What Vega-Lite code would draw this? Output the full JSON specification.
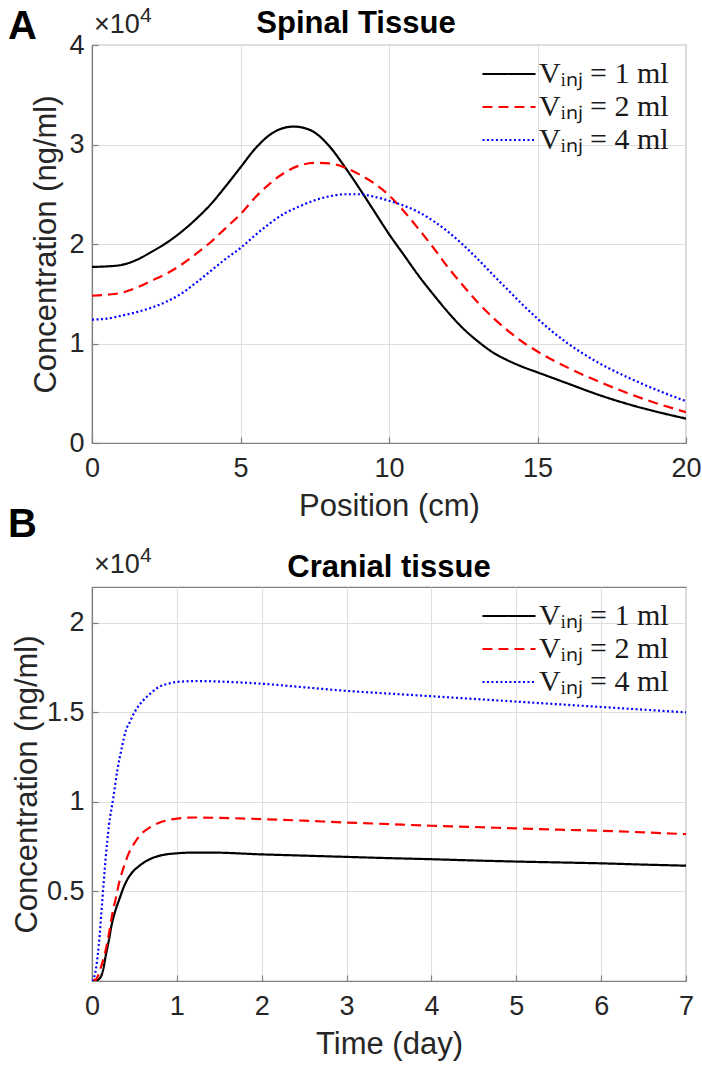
{
  "$schema": "https://vega.github.io/schema/vega-lite/v6.json",
  "background": "white",
  "padding": {"left": 7, "top": 4, "right": 17, "bottom": 5},
  "datasets": {
    "spinal": [
      {"position": 0, "concentration": 17700, "volume": "1 ml"},
      {"position": 0.5, "concentration": 17750, "volume": "1 ml"},
      {"position": 1, "concentration": 17900, "volume": "1 ml"},
      {"position": 1.5, "concentration": 18400, "volume": "1 ml"},
      {"position": 2, "concentration": 19200, "volume": "1 ml"},
      {"position": 2.5, "concentration": 20100, "volume": "1 ml"},
      {"position": 3, "concentration": 21200, "volume": "1 ml"},
      {"position": 3.5, "concentration": 22500, "volume": "1 ml"},
      {"position": 4, "concentration": 24000, "volume": "1 ml"},
      {"position": 4.5, "concentration": 25800, "volume": "1 ml"},
      {"position": 5, "concentration": 27700, "volume": "1 ml"},
      {"position": 5.5, "concentration": 29600, "volume": "1 ml"},
      {"position": 6, "concentration": 31000, "volume": "1 ml"},
      {"position": 6.5, "concentration": 31700, "volume": "1 ml"},
      {"position": 6.8, "concentration": 31800, "volume": "1 ml"},
      {"position": 7, "concentration": 31750, "volume": "1 ml"},
      {"position": 7.5, "concentration": 31200, "volume": "1 ml"},
      {"position": 8, "concentration": 29800, "volume": "1 ml"},
      {"position": 8.5, "concentration": 27800, "volume": "1 ml"},
      {"position": 9, "concentration": 25600, "volume": "1 ml"},
      {"position": 9.5, "concentration": 23300, "volume": "1 ml"},
      {"position": 10, "concentration": 21000, "volume": "1 ml"},
      {"position": 10.5, "concentration": 18900, "volume": "1 ml"},
      {"position": 11, "concentration": 16800, "volume": "1 ml"},
      {"position": 11.5, "concentration": 14900, "volume": "1 ml"},
      {"position": 12, "concentration": 13100, "volume": "1 ml"},
      {"position": 12.5, "concentration": 11500, "volume": "1 ml"},
      {"position": 13, "concentration": 10200, "volume": "1 ml"},
      {"position": 13.5, "concentration": 9100, "volume": "1 ml"},
      {"position": 14, "concentration": 8300, "volume": "1 ml"},
      {"position": 14.5, "concentration": 7650, "volume": "1 ml"},
      {"position": 15, "concentration": 7100, "volume": "1 ml"},
      {"position": 15.5, "concentration": 6550, "volume": "1 ml"},
      {"position": 16, "concentration": 6000, "volume": "1 ml"},
      {"position": 17, "concentration": 4900, "volume": "1 ml"},
      {"position": 18, "concentration": 3950, "volume": "1 ml"},
      {"position": 19, "concentration": 3150, "volume": "1 ml"},
      {"position": 20, "concentration": 2450, "volume": "1 ml"},
      {"position": 0, "concentration": 14800, "volume": "2 ml"},
      {"position": 0.5, "concentration": 14900, "volume": "2 ml"},
      {"position": 1, "concentration": 15100, "volume": "2 ml"},
      {"position": 1.5, "concentration": 15600, "volume": "2 ml"},
      {"position": 2, "concentration": 16300, "volume": "2 ml"},
      {"position": 2.5, "concentration": 17000, "volume": "2 ml"},
      {"position": 3, "concentration": 17900, "volume": "2 ml"},
      {"position": 3.5, "concentration": 19000, "volume": "2 ml"},
      {"position": 4, "concentration": 20200, "volume": "2 ml"},
      {"position": 4.5, "concentration": 21600, "volume": "2 ml"},
      {"position": 5, "concentration": 23000, "volume": "2 ml"},
      {"position": 5.5, "concentration": 24700, "volume": "2 ml"},
      {"position": 6, "concentration": 26100, "volume": "2 ml"},
      {"position": 6.5, "concentration": 27200, "volume": "2 ml"},
      {"position": 7, "concentration": 27900, "volume": "2 ml"},
      {"position": 7.5, "concentration": 28150, "volume": "2 ml"},
      {"position": 8, "concentration": 28100, "volume": "2 ml"},
      {"position": 8.5, "concentration": 27700, "volume": "2 ml"},
      {"position": 9, "concentration": 27000, "volume": "2 ml"},
      {"position": 9.5, "concentration": 26100, "volume": "2 ml"},
      {"position": 10, "concentration": 24900, "volume": "2 ml"},
      {"position": 10.5, "concentration": 23300, "volume": "2 ml"},
      {"position": 11, "concentration": 21500, "volume": "2 ml"},
      {"position": 11.5, "concentration": 19600, "volume": "2 ml"},
      {"position": 12, "concentration": 17600, "volume": "2 ml"},
      {"position": 12.5, "concentration": 15800, "volume": "2 ml"},
      {"position": 13, "concentration": 14100, "volume": "2 ml"},
      {"position": 13.5, "concentration": 12600, "volume": "2 ml"},
      {"position": 14, "concentration": 11300, "volume": "2 ml"},
      {"position": 14.5, "concentration": 10150, "volume": "2 ml"},
      {"position": 15, "concentration": 9200, "volume": "2 ml"},
      {"position": 16, "concentration": 7600, "volume": "2 ml"},
      {"position": 17, "concentration": 6250, "volume": "2 ml"},
      {"position": 18, "concentration": 5050, "volume": "2 ml"},
      {"position": 19, "concentration": 4000, "volume": "2 ml"},
      {"position": 20, "concentration": 3100, "volume": "2 ml"},
      {"position": 0, "concentration": 12400, "volume": "4 ml"},
      {"position": 0.5, "concentration": 12500, "volume": "4 ml"},
      {"position": 1, "concentration": 12800, "volume": "4 ml"},
      {"position": 1.5, "concentration": 13150, "volume": "4 ml"},
      {"position": 2, "concentration": 13600, "volume": "4 ml"},
      {"position": 2.5, "concentration": 14200, "volume": "4 ml"},
      {"position": 3, "concentration": 15000, "volume": "4 ml"},
      {"position": 3.5, "concentration": 16100, "volume": "4 ml"},
      {"position": 4, "concentration": 17300, "volume": "4 ml"},
      {"position": 4.5, "concentration": 18500, "volume": "4 ml"},
      {"position": 5, "concentration": 19600, "volume": "4 ml"},
      {"position": 5.5, "concentration": 20900, "volume": "4 ml"},
      {"position": 6, "concentration": 22100, "volume": "4 ml"},
      {"position": 6.5, "concentration": 23100, "volume": "4 ml"},
      {"position": 7, "concentration": 23800, "volume": "4 ml"},
      {"position": 7.5, "concentration": 24400, "volume": "4 ml"},
      {"position": 8, "concentration": 24800, "volume": "4 ml"},
      {"position": 8.5, "concentration": 25000, "volume": "4 ml"},
      {"position": 9, "concentration": 25000, "volume": "4 ml"},
      {"position": 9.5, "concentration": 24750, "volume": "4 ml"},
      {"position": 10, "concentration": 24350, "volume": "4 ml"},
      {"position": 10.5, "concentration": 23850, "volume": "4 ml"},
      {"position": 11, "concentration": 23200, "volume": "4 ml"},
      {"position": 11.5, "concentration": 22300, "volume": "4 ml"},
      {"position": 12, "concentration": 21200, "volume": "4 ml"},
      {"position": 12.5, "concentration": 19900, "volume": "4 ml"},
      {"position": 13, "concentration": 18450, "volume": "4 ml"},
      {"position": 13.5, "concentration": 16900, "volume": "4 ml"},
      {"position": 14, "concentration": 15400, "volume": "4 ml"},
      {"position": 14.5, "concentration": 13900, "volume": "4 ml"},
      {"position": 15, "concentration": 12500, "volume": "4 ml"},
      {"position": 15.5, "concentration": 11200, "volume": "4 ml"},
      {"position": 16, "concentration": 10050, "volume": "4 ml"},
      {"position": 16.5, "concentration": 9050, "volume": "4 ml"},
      {"position": 17, "concentration": 8150, "volume": "4 ml"},
      {"position": 18, "concentration": 6650, "volume": "4 ml"},
      {"position": 19, "concentration": 5350, "volume": "4 ml"},
      {"position": 20, "concentration": 4200, "volume": "4 ml"}
    ],
    "cranial": [
      {"time": 0, "concentration": 0, "volume": "1 ml"},
      {"time": 0.05, "concentration": 30, "volume": "1 ml"},
      {"time": 0.1, "concentration": 200, "volume": "1 ml"},
      {"time": 0.13, "concentration": 600, "volume": "1 ml"},
      {"time": 0.165, "concentration": 1500, "volume": "1 ml"},
      {"time": 0.2, "concentration": 2300, "volume": "1 ml"},
      {"time": 0.23, "concentration": 3100, "volume": "1 ml"},
      {"time": 0.28, "concentration": 4000, "volume": "1 ml"},
      {"time": 0.325, "concentration": 4600, "volume": "1 ml"},
      {"time": 0.37, "concentration": 5200, "volume": "1 ml"},
      {"time": 0.415, "concentration": 5650, "volume": "1 ml"},
      {"time": 0.48, "concentration": 6100, "volume": "1 ml"},
      {"time": 0.55, "concentration": 6400, "volume": "1 ml"},
      {"time": 0.64, "concentration": 6700, "volume": "1 ml"},
      {"time": 0.73, "concentration": 6900, "volume": "1 ml"},
      {"time": 0.85, "concentration": 7050, "volume": "1 ml"},
      {"time": 1, "concentration": 7130, "volume": "1 ml"},
      {"time": 1.2, "concentration": 7170, "volume": "1 ml"},
      {"time": 1.4, "concentration": 7170, "volume": "1 ml"},
      {"time": 2, "concentration": 7070, "volume": "1 ml"},
      {"time": 2.5, "concentration": 7000, "volume": "1 ml"},
      {"time": 3, "concentration": 6930, "volume": "1 ml"},
      {"time": 3.5, "concentration": 6860, "volume": "1 ml"},
      {"time": 4, "concentration": 6800, "volume": "1 ml"},
      {"time": 4.5, "concentration": 6730, "volume": "1 ml"},
      {"time": 5, "concentration": 6670, "volume": "1 ml"},
      {"time": 5.5, "concentration": 6620, "volume": "1 ml"},
      {"time": 6, "concentration": 6570, "volume": "1 ml"},
      {"time": 6.5, "concentration": 6500, "volume": "1 ml"},
      {"time": 7, "concentration": 6440, "volume": "1 ml"},
      {"time": 0, "concentration": 0, "volume": "2 ml"},
      {"time": 0.05, "concentration": 100, "volume": "2 ml"},
      {"time": 0.1, "concentration": 700, "volume": "2 ml"},
      {"time": 0.15, "concentration": 1500, "volume": "2 ml"},
      {"time": 0.19, "concentration": 2400, "volume": "2 ml"},
      {"time": 0.25, "concentration": 4000, "volume": "2 ml"},
      {"time": 0.28, "concentration": 4600, "volume": "2 ml"},
      {"time": 0.32, "concentration": 5500, "volume": "2 ml"},
      {"time": 0.37, "concentration": 6300, "volume": "2 ml"},
      {"time": 0.43, "concentration": 7100, "volume": "2 ml"},
      {"time": 0.5, "concentration": 7700, "volume": "2 ml"},
      {"time": 0.6, "concentration": 8300, "volume": "2 ml"},
      {"time": 0.69, "concentration": 8600, "volume": "2 ml"},
      {"time": 0.8, "concentration": 8850, "volume": "2 ml"},
      {"time": 0.91, "concentration": 9000, "volume": "2 ml"},
      {"time": 1, "concentration": 9070, "volume": "2 ml"},
      {"time": 1.2, "concentration": 9130, "volume": "2 ml"},
      {"time": 1.5, "concentration": 9110, "volume": "2 ml"},
      {"time": 2, "concentration": 9040, "volume": "2 ml"},
      {"time": 2.5, "concentration": 8950, "volume": "2 ml"},
      {"time": 3, "concentration": 8850, "volume": "2 ml"},
      {"time": 3.5, "concentration": 8760, "volume": "2 ml"},
      {"time": 4, "concentration": 8670, "volume": "2 ml"},
      {"time": 4.5, "concentration": 8600, "volume": "2 ml"},
      {"time": 5, "concentration": 8520, "volume": "2 ml"},
      {"time": 5.5, "concentration": 8450, "volume": "2 ml"},
      {"time": 6, "concentration": 8390, "volume": "2 ml"},
      {"time": 6.5, "concentration": 8300, "volume": "2 ml"},
      {"time": 7, "concentration": 8200, "volume": "2 ml"},
      {"time": 0, "concentration": 0, "volume": "4 ml"},
      {"time": 0.04, "concentration": 500, "volume": "4 ml"},
      {"time": 0.08, "concentration": 2000, "volume": "4 ml"},
      {"time": 0.12, "concentration": 4400, "volume": "4 ml"},
      {"time": 0.16, "concentration": 6800, "volume": "4 ml"},
      {"time": 0.2, "concentration": 8700, "volume": "4 ml"},
      {"time": 0.25, "concentration": 10200, "volume": "4 ml"},
      {"time": 0.3, "concentration": 11800, "volume": "4 ml"},
      {"time": 0.35, "concentration": 13000, "volume": "4 ml"},
      {"time": 0.4, "concentration": 14000, "volume": "4 ml"},
      {"time": 0.45, "concentration": 14500, "volume": "4 ml"},
      {"time": 0.5, "concentration": 15000, "volume": "4 ml"},
      {"time": 0.6, "concentration": 15650, "volume": "4 ml"},
      {"time": 0.7, "concentration": 16100, "volume": "4 ml"},
      {"time": 0.8, "concentration": 16450, "volume": "4 ml"},
      {"time": 0.9, "concentration": 16600, "volume": "4 ml"},
      {"time": 1, "concentration": 16700, "volume": "4 ml"},
      {"time": 1.25, "concentration": 16750, "volume": "4 ml"},
      {"time": 1.5, "concentration": 16720, "volume": "4 ml"},
      {"time": 2, "concentration": 16600, "volume": "4 ml"},
      {"time": 2.5, "concentration": 16400, "volume": "4 ml"},
      {"time": 3, "concentration": 16200, "volume": "4 ml"},
      {"time": 3.5, "concentration": 16050, "volume": "4 ml"},
      {"time": 4, "concentration": 15900, "volume": "4 ml"},
      {"time": 4.5, "concentration": 15750, "volume": "4 ml"},
      {"time": 5, "concentration": 15600, "volume": "4 ml"},
      {"time": 5.5, "concentration": 15450, "volume": "4 ml"},
      {"time": 6, "concentration": 15300, "volume": "4 ml"},
      {"time": 6.5, "concentration": 15150, "volume": "4 ml"},
      {"time": 7, "concentration": 15000, "volume": "4 ml"}
    ]
  },
  "bounds": "flush",
  "spacing": 144,
  "vconcat": [
    {
      "width": 594,
      "height": 398,
      "layer": [
        {
          "data": {"name": "spinal"},
          "mark": {"type": "line", "strokeWidth": 2.2, "clip": true, "interpolate": "monotone"},
          "encoding": {
            "x": {"field": "position", "type": "quantitative", "scale": {"domain": [0, 20], "nice": false, "zero": false},
                  "axis": {"values": [0, 5, 10, 15, 20], "format": "d", "title": "Position (cm)"}},
            "y": {"field": "concentration", "type": "quantitative", "scale": {"domain": [0, 40000], "nice": false},
                  "axis": {"values": [0, 10000, 20000, 30000, 40000], "labelExpr": "datum.value / 10000", "title": "Concentration (ng/ml)", "titlePadding": 6}},
            "color": {"field": "volume", "type": "nominal",
                      "scale": {"domain": ["1 ml", "2 ml", "4 ml"], "range": ["#000000", "#ff0000", "#0000ff"]},
                      "legend": {"title": null, "labelExpr": "'V\u1d62\u2099\u2c7c = ' + datum.label"}},
            "strokeDash": {"field": "volume", "type": "nominal",
                      "scale": {"domain": ["1 ml", "2 ml", "4 ml"], "range": [[1, 0], [10, 6], [2, 2.5]]},
                      "legend": {"title": null, "labelExpr": "'V\u1d62\u2099\u2c7c = ' + datum.label"}}
          }
        },
        {
          "data": {"values": [{}]},
          "mark": {"type": "text", "text": "Spinal Tissue", "align": "center", "baseline": "middle", "fontSize": 31, "fontWeight": "bold", "dx": -33, "dy": -21, "color": "#000000"},
          "encoding": {"x": {"datum": 10}, "y": {"datum": 40000}}
        },
        {
          "data": {"values": [{}]},
          "mark": {"type": "text", "text": "\u00d710", "align": "left", "baseline": "bottom", "fontSize": 27, "dx": 2, "dy": -6, "color": "#262626"},
          "encoding": {"x": {"datum": 0}, "y": {"datum": 40000}}
        },
        {
          "data": {"values": [{}]},
          "mark": {"type": "text", "text": "4", "align": "left", "baseline": "bottom", "fontSize": 21, "dx": 48, "dy": -19, "color": "#262626"},
          "encoding": {"x": {"datum": 0}, "y": {"datum": 40000}}
        },
        {
          "data": {"values": [{}]},
          "mark": {"type": "text", "text": "A", "align": "left", "baseline": "top", "fontSize": 40, "fontWeight": "bold", "dx": -84, "dy": -38, "color": "#000000"},
          "encoding": {"x": {"datum": 0}, "y": {"datum": 40000}}
        }
      ]
    },
    {
      "width": 594,
      "height": 394,
      "layer": [
        {
          "data": {"name": "cranial"},
          "mark": {"type": "line", "strokeWidth": 2.2, "clip": true, "interpolate": "monotone"},
          "encoding": {
            "x": {"field": "time", "type": "quantitative", "scale": {"domain": [0, 7], "nice": false, "zero": false},
                  "axis": {"values": [0, 1, 2, 3, 4, 5, 6, 7], "format": "d", "title": "Time (day)"}},
            "y": {"field": "concentration", "type": "quantitative", "scale": {"domain": [0, 22000], "nice": false},
                  "axis": {"values": [5000, 10000, 15000, 20000], "labelExpr": "datum.value / 10000", "title": "Concentration (ng/ml)", "titlePadding": 3}},
            "color": {"field": "volume", "type": "nominal",
                      "scale": {"domain": ["1 ml", "2 ml", "4 ml"], "range": ["#000000", "#ff0000", "#0000ff"]},
                      "legend": {"title": null, "labelExpr": "'V\u1d62\u2099\u2c7c = ' + datum.label"}},
            "strokeDash": {"field": "volume", "type": "nominal",
                      "scale": {"domain": ["1 ml", "2 ml", "4 ml"], "range": [[1, 0], [10, 6], [2, 2.5]]},
                      "legend": {"title": null, "labelExpr": "'V\u1d62\u2099\u2c7c = ' + datum.label"}}
          }
        },
        {
          "data": {"values": [{}]},
          "mark": {"type": "text", "text": "Cranial tissue", "align": "center", "baseline": "middle", "fontSize": 31, "fontWeight": "bold", "dy": -19, "color": "#000000"},
          "encoding": {"x": {"datum": 3.5}, "y": {"datum": 22000}}
        },
        {
          "data": {"values": [{}]},
          "mark": {"type": "text", "text": "\u00d710", "align": "left", "baseline": "bottom", "fontSize": 27, "dx": 2, "dy": -8, "color": "#262626"},
          "encoding": {"x": {"datum": 0}, "y": {"datum": 22000}}
        },
        {
          "data": {"values": [{}]},
          "mark": {"type": "text", "text": "4", "align": "left", "baseline": "bottom", "fontSize": 21, "dx": 48, "dy": -21, "color": "#262626"},
          "encoding": {"x": {"datum": 0}, "y": {"datum": 22000}}
        },
        {
          "data": {"values": [{}]},
          "mark": {"type": "text", "text": "B", "align": "left", "baseline": "top", "fontSize": 40, "fontWeight": "bold", "dx": -84, "dy": -82, "color": "#000000"},
          "encoding": {"x": {"datum": 0}, "y": {"datum": 22000}}
        }
      ]
    }
  ],
  "resolve": {"scale": {"color": "independent", "strokeDash": "independent"}},
  "config": {
    "font": "Liberation Sans",
    "text": {"font": "Liberation Sans"},
    "view": {"stroke": "#7f7f7f", "strokeWidth": 1.2},
    "axis": {
      "labelFont": "Liberation Sans", "labelFontSize": 27, "labelColor": "#262626",
      "titleFont": "Liberation Sans", "titleFontSize": 31, "titleFontWeight": "normal", "titleColor": "#262626",
      "grid": true, "gridColor": "#dedede", "gridWidth": 1,
      "domainColor": "#7f7f7f", "domainWidth": 1.2, "tickColor": "#7f7f7f", "tickSize": -6, "tickWidth": 1.2,
      "labelPadding": 14, "titlePadding": 6, "labelFlush": false, "labelOverlap": false
    },
    "axisX": {"labelPadding": 18, "titlePadding": 10},
    "legend": {
      "orient": "none", "legendX": 399, "legendY": 11, "padding": 0,
      "symbolType": "M-1.6,0H1.6", "symbolSize": 1100, "symbolStrokeWidth": 2.2, "symbolFillColor": "transparent",
      "labelFont": "Liberation Serif", "labelFontSize": 30, "labelColor": "#1a1a1a", "labelLimit": 0,
      "rowPadding": 0, "labelOffset": 12
    }
  }
}
